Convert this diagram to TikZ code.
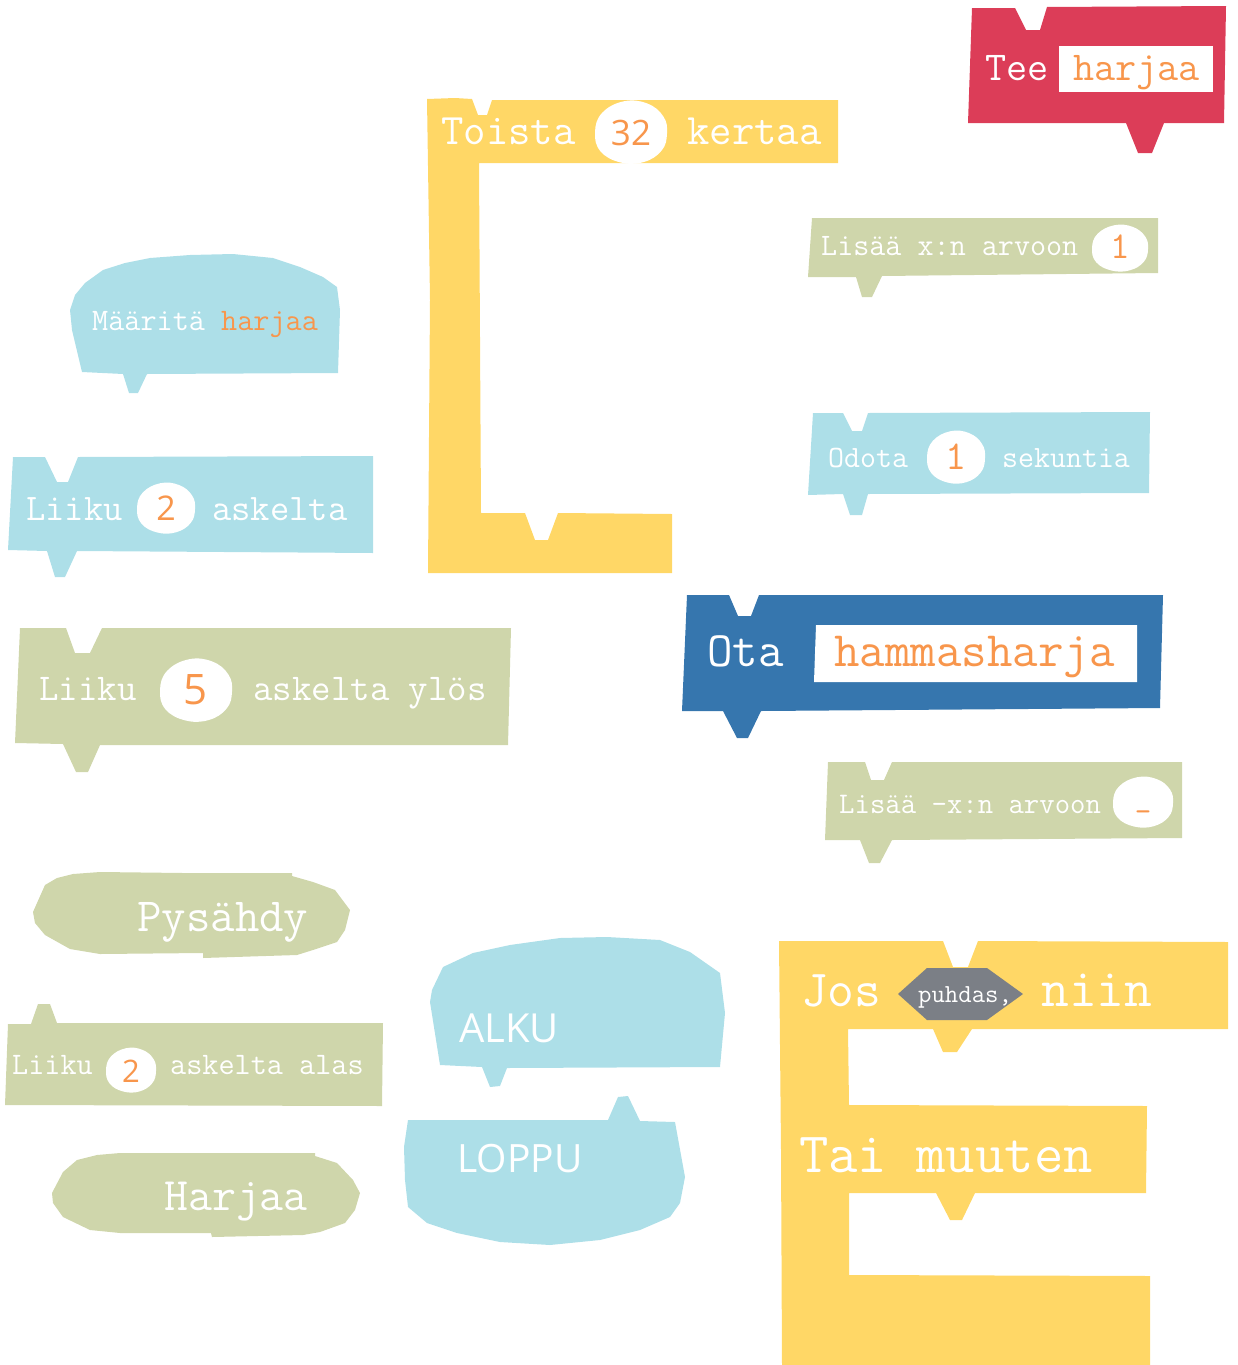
\documentclass[tikz,border=0pt]{standalone}
\usepackage{fontspec}
\newfontfamily\numfont{Open Sans}
\definecolor{cred}{HTML}{DC3D58}
\definecolor{cyel}{HTML}{FFD766}
\definecolor{cblue}{HTML}{ADDFE8}
\definecolor{cgreen}{HTML}{CFD6AB}
\definecolor{cdark}{HTML}{3676AE}
\definecolor{corange}{HTML}{F8964C}
\definecolor{cgray}{HTML}{7B7F86}
\tikzset{
  mono/.style={anchor=base west, inner sep=0pt, text=white,
    font=\ttfamily\fontsize{#1}{#1}\selectfont},
  num/.style={anchor=center, inner sep=0pt, text=corange,
    font=\numfont\fontsize{#1}{#1}\selectfont},
  numtt/.style={anchor=center, inner sep=0pt, text=corange,
    font=\ttfamily\fontsize{#1}{#1}\selectfont},
  sans/.style={anchor=base west, inner sep=0pt, text=white,
    font=\numfont\fontsize{#1}{#1}\selectfont},
}
% white lumpy value slot: centre x, centre y, radius x, radius y
\newcommand\valueslot[4]{%
  \fill[white,shift={(#1,#2)},xscale=#3,yscale=#4]
    plot[smooth cycle,tension=0.7] coordinates {(1,0.05) (0.85,0.6) (0.35,0.97)
      (-0.3,0.98) (-0.85,0.62) (-1.0,0.0) (-0.8,-0.62) (-0.2,-0.99) (0.45,-0.92) (0.9,-0.5)};}
\begin{document}
\begin{tikzpicture}[x=1pt,y=-1pt]
\useasboundingbox (0,0) rectangle (1237,1365);

% ---- Tee harjaa (red) ----
\fill[cred] (972,8) -- (1015,8) -- (1026,30) -- (1040,30) -- (1047,7) -- (1226,6)
  -- (1224,123) -- (1164,123) -- (1152,153) -- (1138,153) -- (1126,123) -- (968,123) -- cycle;
\fill[white] (1059,46) rectangle (1213,92);
\node[mono=41] (tee) at (985,80) {Tee};
\node[mono=41,text=corange] (teeh) at (1073,80) {harjaa};

% ---- Toista 32 kertaa (yellow C) ----
\fill[cyel] (427,99) -- (455,98) -- (472,99) -- (478,115) -- (487,115) -- (492,100) -- (838,100)
  -- (838,163) -- (479,163) -- (481,513) -- (525,513) -- (535,540) -- (548,540) -- (558,513)
  -- (672,514) -- (672,573) -- (428,573) -- (430,300) -- cycle;
\node[mono=43.5] (toista) at (441,144) {Toista};
\valueslot{631}{132}{36}{31}
\node[num=35] (n32) at (631,133) {32};
\node[mono=43.5] (kertaa) at (687,144) {kertaa};

% ---- Maarita harjaa (blue bubble) ----
\fill[cblue] (82,372) -- (72,330) -- (70,310) -- (75,295) -- (85,283) -- (103,270) -- (125,263)
  -- (150,258) -- (190,255) -- (233,254) -- (273,258) -- (300,267) -- (323,277) -- (337,287)
  -- (340,310) -- (338,373) -- (147,374) -- (138,393) -- (129,393) -- (123,374) -- cycle;
\node[mono=31.3] (maar) at (92,330) {Määritä \textcolor{corange}{harjaa}};

% ---- Liiku 2 askelta (blue) ----
\fill[cblue] (13,457) -- (45,457) -- (57,482) -- (68,482) -- (78,457) -- (373,456)
  -- (373,553) -- (77,551) -- (65,577) -- (55,577) -- (47,551) -- (8,550) -- cycle;
\node[mono=37.5] (l2a) at (26,520) {Liiku};
\valueslot{166}{508}{29}{25}
\node[num=34] (n2a) at (166,508) {2};
\node[mono=37.5] (l2b) at (212,520) {askelta};

% ---- Liiku 5 askelta ylos (green) ----
\fill[cgreen] (20,628) -- (66,628) -- (75,653) -- (90,653) -- (102,628) -- (511,628)
  -- (508,745) -- (100,745) -- (88,772) -- (76,772) -- (63,744) -- (15,743) -- cycle;
\node[mono=37.8] (l5a) at (39,700) {Liiku};
\valueslot{196}{690}{36}{31}
\node[num=42] (n5) at (196,690) {5};
\node[mono=37.8] (l5b) at (253,700) {askelta ylös};

% ---- Pysahdy (green) ----
\fill[cgreen] (33,912) -- (45,885) -- (57,878) -- (73,874) -- (100,872) -- (183,873) -- (292,873)
  -- (292,876) -- (313,882) -- (335,890) -- (350,910) -- (345,930) -- (337,942) -- (313,950)
  -- (297,955) -- (203,958) -- (203,953) -- (100,954) -- (70,949) -- (45,935) -- (35,923) -- cycle;
\node[mono=47.5] (pys) at (137,931) {Pysähdy};

% ---- Liiku 2 askelta alas (green) ----
\fill[cgreen] (8,1024) -- (31,1024) -- (38,1004) -- (50,1004) -- (57,1023) -- (383,1023)
  -- (382,1106) -- (5,1105) -- cycle;
\node[mono=31.3] (l2c) at (12,1074) {Liiku};
\valueslot{131}{1070}{25}{22}
\node[num=31] (n2b) at (131,1071) {2};
\node[mono=31.3] (l2d) at (170,1074) {askelta alas};

% ---- Harjaa (green) ----
\fill[cgreen] (52,1193) -- (63,1172) -- (77,1160) -- (97,1155) -- (120,1153) -- (203,1153)
  -- (315,1153) -- (315,1156) -- (337,1163) -- (353,1180) -- (360,1193) -- (355,1210)
  -- (345,1223) -- (320,1232) -- (303,1235) -- (212,1237) -- (211,1233) -- (120,1233)
  -- (90,1230) -- (63,1217) -- (53,1203) -- cycle;
\node[mono=46.5] (harj) at (164,1210) {Harjaa};

% ---- ALKU (blue) ----
\fill[cblue] (430,1002) -- (432,990) -- (443,967) -- (473,953) -- (510,945) -- (560,938)
  -- (607,937) -- (660,940) -- (690,952) -- (720,973) -- (725,1013) -- (720,1067)
  -- (507,1068) -- (500,1086) -- (490,1087) -- (482,1067) -- (440,1065) -- cycle;
\node[sans=40] (alku) at (459,1042) {ALKU};

% ---- LOPPU (blue) ----
\fill[cblue] (408,1120) -- (608,1120) -- (618,1097) -- (628,1096) -- (640,1121) -- (675,1122)
  -- (685,1177) -- (680,1203) -- (670,1217) -- (640,1230) -- (600,1240) -- (550,1245)
  -- (500,1242) -- (457,1233) -- (427,1223) -- (408,1207) -- (405,1180) -- (404,1147) -- cycle;
\node[sans=39] (loppu) at (457,1172) {LOPPU};

% ---- Lisaa x:n arvoon 1 (green) ----
\fill[cgreen] (812,218) -- (1158,218) -- (1158,273) -- (882,276) -- (872,297) -- (862,297)
  -- (856,277) -- (808,277) -- cycle;
\node[mono=31.2] (lis1) at (821,255) {Lisää x:n arvoon};
\valueslot{1120}{248}{28}{23}
\node[numtt=38] (n1a) at (1120,247) {1};

% ---- Odota 1 sekuntia (blue) ----
\fill[cblue] (813,413) -- (843,413) -- (852,431) -- (862,431) -- (868,413) -- (1150,412)
  -- (1149,493) -- (868,494) -- (862,515) -- (850,515) -- (843,494) -- (808,495) -- cycle;
\node[mono=31] (odo) at (828,467) {Odota};
\valueslot{956}{457}{29}{26}
\node[numtt=41] (n1b) at (956,457) {1};
\node[mono=31] (sek) at (1002,467) {sekuntia};

% ---- Ota hammasharja (dark blue) ----
\fill[cdark] (687,595) -- (729,595) -- (738,616) -- (751,616) -- (759,595) -- (1163,595)
  -- (1160,708) -- (761,711) -- (748,738) -- (737,738) -- (723,711) -- (682,711) -- cycle;
\fill[white] (816,625) -- (1137,625) -- (1137,682) -- (814,682) -- cycle;
\node[mono=49.5] (ota) at (707,666) {Ota};
\node[mono=49.5,text=corange] (ham) at (834,666) {hammasharja};

% ---- Lisaa -x:n arvoon _ (green) ----
\fill[cgreen] (828,762) -- (865,762) -- (871,780) -- (884,780) -- (892,762) -- (1182,762)
  -- (1182,838) -- (892,840) -- (880,863) -- (869,863) -- (860,840) -- (825,840) -- cycle;
\node[mono=29.9] (lis2) at (839,813) {Lisää -x:n arvoon};
\valueslot{1143}{802}{30}{25}
\node[mono=32,text=corange,anchor=base] (us) at (1143,806) {\_};

% ---- Jos puhdas, niin / Tai muuten (yellow E) ----
\fill[cyel] (779,941) -- (943,941) -- (953,967) -- (968,967) -- (978,941) -- (1228,942)
  -- (1228,1029) -- (972,1029) -- (957,1052) -- (943,1052) -- (933,1029) -- (848,1029)
  -- (849,1105) -- (1147,1106) -- (1146,1193) -- (975,1193) -- (962,1220) -- (950,1220)
  -- (936,1193) -- (849,1193) -- (849,1275) -- (1150,1276) -- (1150,1365) -- (782,1365)
  -- (781,1150) -- cycle;
\fill[cgray] (898,994) -- (927,968) -- (987,968) -- (1023,994) -- (987,1020) -- (927,1020) -- cycle;
\node[mono=52] (jos) at (801,1006) {Jos};
\node[mono=26] (puh) at (918,1002) {puhdas,};
\node[mono=54] (niin) at (1041,1006) {niin};
\node[mono=57] (tai) at (799,1172) {Tai muuten};
\end{tikzpicture}
\end{document}
